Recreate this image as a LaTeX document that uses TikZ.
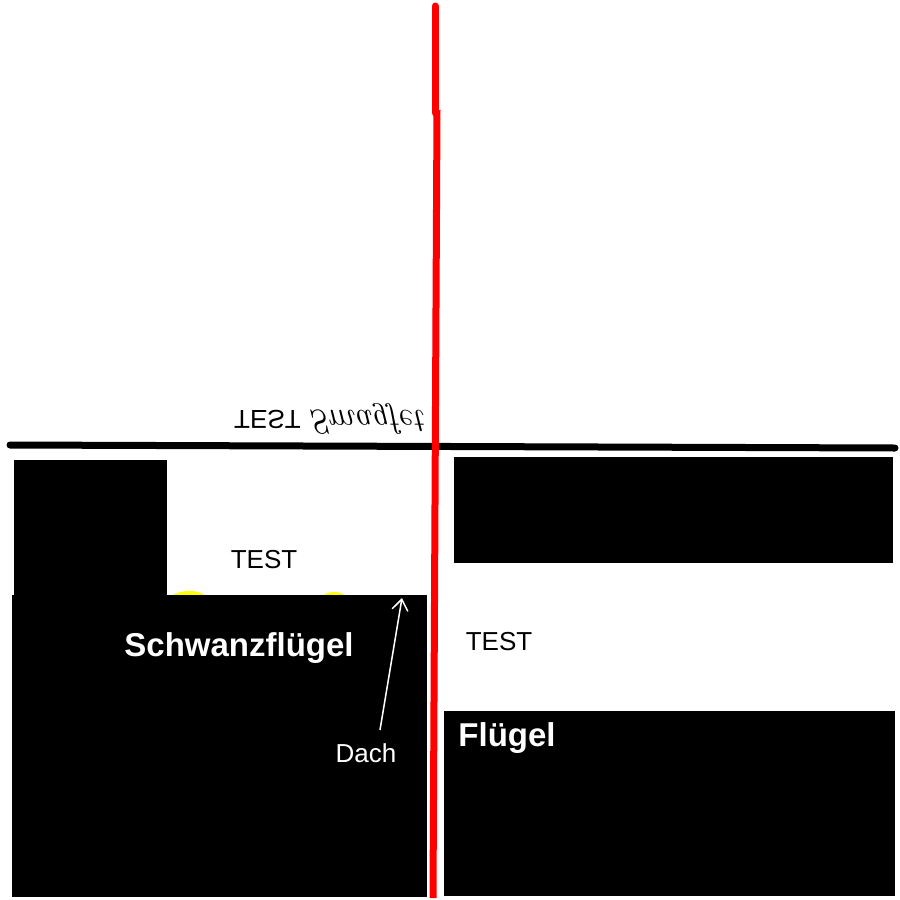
\documentclass[tikz,border=0pt]{standalone}
\usepackage{fontspec}
\setsansfont{Liberation Sans}
\usetikzlibrary{arrows.meta}
\definecolor{rotlinie}{RGB}{255,0,0}
\definecolor{gelb}{RGB}{255,255,0}

\begin{document}
\begin{tikzpicture}[x=1pt, y=-1pt,
    schrift/.style = {font=\sffamily\fontsize{26}{30}\selectfont, inner sep=0, anchor=base},
    titel/.style   = {font=\sffamily\bfseries\fontsize{33}{38}\selectfont, text=white, inner sep=0, anchor=base},
    block/.style   = {fill=black},
    pfeil/.style   = {white, line width=1.5pt, -{Straight Barb[length=11pt, width=16pt]}}]
    \useasboundingbox[fill=white] (0,0) rectangle (900,900);

    % gelbe Reste unter dem Dach
    \fill[gelb] (189,599) ellipse [x radius=18pt, y radius=8pt];
    \fill[gelb] (334,599) ellipse [x radius=13pt, y radius=7pt];

    \fill[block] (14,460)  rectangle (167,596);
    \fill[block] (12,595)  rectangle (427,897);
    \fill[block] (454,457) rectangle (893,563);
    \fill[block] (444,711) rectangle (895,896);

    \draw[line width=7pt, line cap=round] (10,445) -- (895,448);

    \node[anchor=base west, inner sep=0] (spiegel) at (234,410)
      {\scalebox{1}[-1]{\sffamily\fontsize{26}{30}\selectfont TEST
       \rmfamily\itshape\fontsize{34}{38}\selectfont Smagfet}};

    \node[schrift]             (test1)   at (264,568) {TEST};
    \node[schrift]             (test2)   at (499,650) {TEST};
    \node[titel]               (schwanz) at (239,656) {Schwanzflügel};
    \node[titel]               (fluegel) at (507,746) {Flügel};
    \node[schrift, text=white] (dach)    at (366,762) {Dach};

    \coordinate (dachkante) at (402,598);
    \draw[pfeil] ([xshift=14pt, yshift=13pt]dach.north) -- (dachkante);

    \draw[rotlinie, line width=7pt, line cap=round] (435,6) -- (435,113);
    \draw[rotlinie, line width=7pt] (437,110) -- (433,898);
  \end{tikzpicture}
\end{document}
